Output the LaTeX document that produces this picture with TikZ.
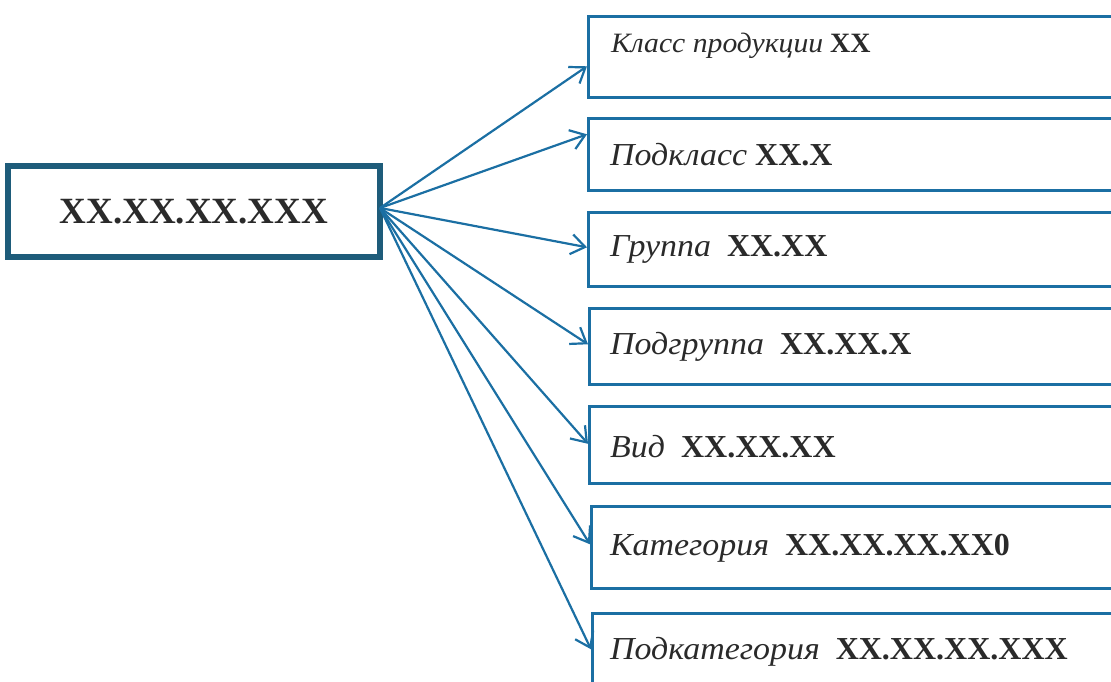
\documentclass[tikz,border=0pt]{standalone}
\usepackage{fontspec}
\setmainfont{Liberation Serif}[ItalicFeatures={FakeStretch=1.06}]
\usetikzlibrary{arrows.meta}
\definecolor{rblue}{HTML}{1B6FA3}
\definecolor{lblue}{HTML}{1E5C7A}
\definecolor{ink}{HTML}{2A2A2A}
\tikzset{
  rbox/.style={draw=rblue, line width=2.6pt, minimum width=560pt, anchor=north west, inner sep=0pt},
  lbl/.style={anchor=west, inner sep=0pt, text=ink, font=\fontsize{32}{35}\selectfont},
  conn/.style={draw=rblue, line width=2.2pt, -{Straight Barb[length=14pt,width=20pt,line width=2.2pt]}}
}
\begin{document}
\begin{tikzpicture}[x=1pt,y=1pt]
\useasboundingbox (0,0) rectangle (1111,682);
\clip (0,0) rectangle (1111,682);
% left box
\node[draw=lblue, line width=5.5pt, minimum width=372pt, minimum height=91pt, inner sep=0pt, text=ink,
      font=\fontsize{37}{40}\selectfont\bfseries] (src) at (194,470.5) {XX.XX.XX.XXX};
\coordinate (o) at (380,474);
% right boxes
\node[rbox, minimum height=81pt] (b1) at (587,667) {};
\node[rbox, minimum height=72pt] (b2) at (587,565) {};
\node[rbox, minimum height=74pt] (b3) at (587,471) {};
\node[rbox, minimum height=76pt] (b4) at (588,375) {};
\node[rbox, minimum height=77pt] (b5) at (588,277) {};
\node[rbox, minimum height=82pt] (b6) at (590,177) {};
\node[rbox, minimum height=90pt] (b7) at (591,70) {};
% labels
\node[lbl, font=\fontsize{28}{31}\selectfont] (t1) at (611,636) {\textit{Класс продукции} \textbf{XX}};
\node[lbl] (t2) at (610,527) {\textit{Подкласс} \textbf{XX.X}};
\node[lbl] (t3) at (610,433) {\textit{Группа}\hspace{0.5em}\textbf{XX.XX}};
\node[lbl] (t4) at (610,335) {\textit{Подгруппа}\hspace{0.5em}\textbf{XX.XX.X}};
\node[lbl] (t5) at (610,235) {\textit{Вид}\hspace{0.5em}\textbf{XX.XX.XX}};
\node[lbl] (t6) at (610,134) {\textit{Категория}\hspace{0.5em}\textbf{XX.XX.XX.XX0}};
\node[lbl] (t7) at (610,30) {\textit{Подкатегория}\hspace{0.5em}\textbf{XX.XX.XX.XXX}};
% connectors
\draw[conn] (o) -- ([yshift=-9.5pt]b1.west);
\draw[conn] (o) -- ([yshift=20pt]b2.west);
\draw[conn] (o) -- ([yshift=2pt]b3.west);
\draw[conn] (o) -- ([yshift=2pt]b4.west);
\draw[conn] (o) -- ([yshift=1pt]b5.west);
\draw[conn] (o) -- ([yshift=3pt]b6.west);
\draw[conn] (o) -- ([yshift=9pt]b7.west);
\end{tikzpicture}
\end{document}
